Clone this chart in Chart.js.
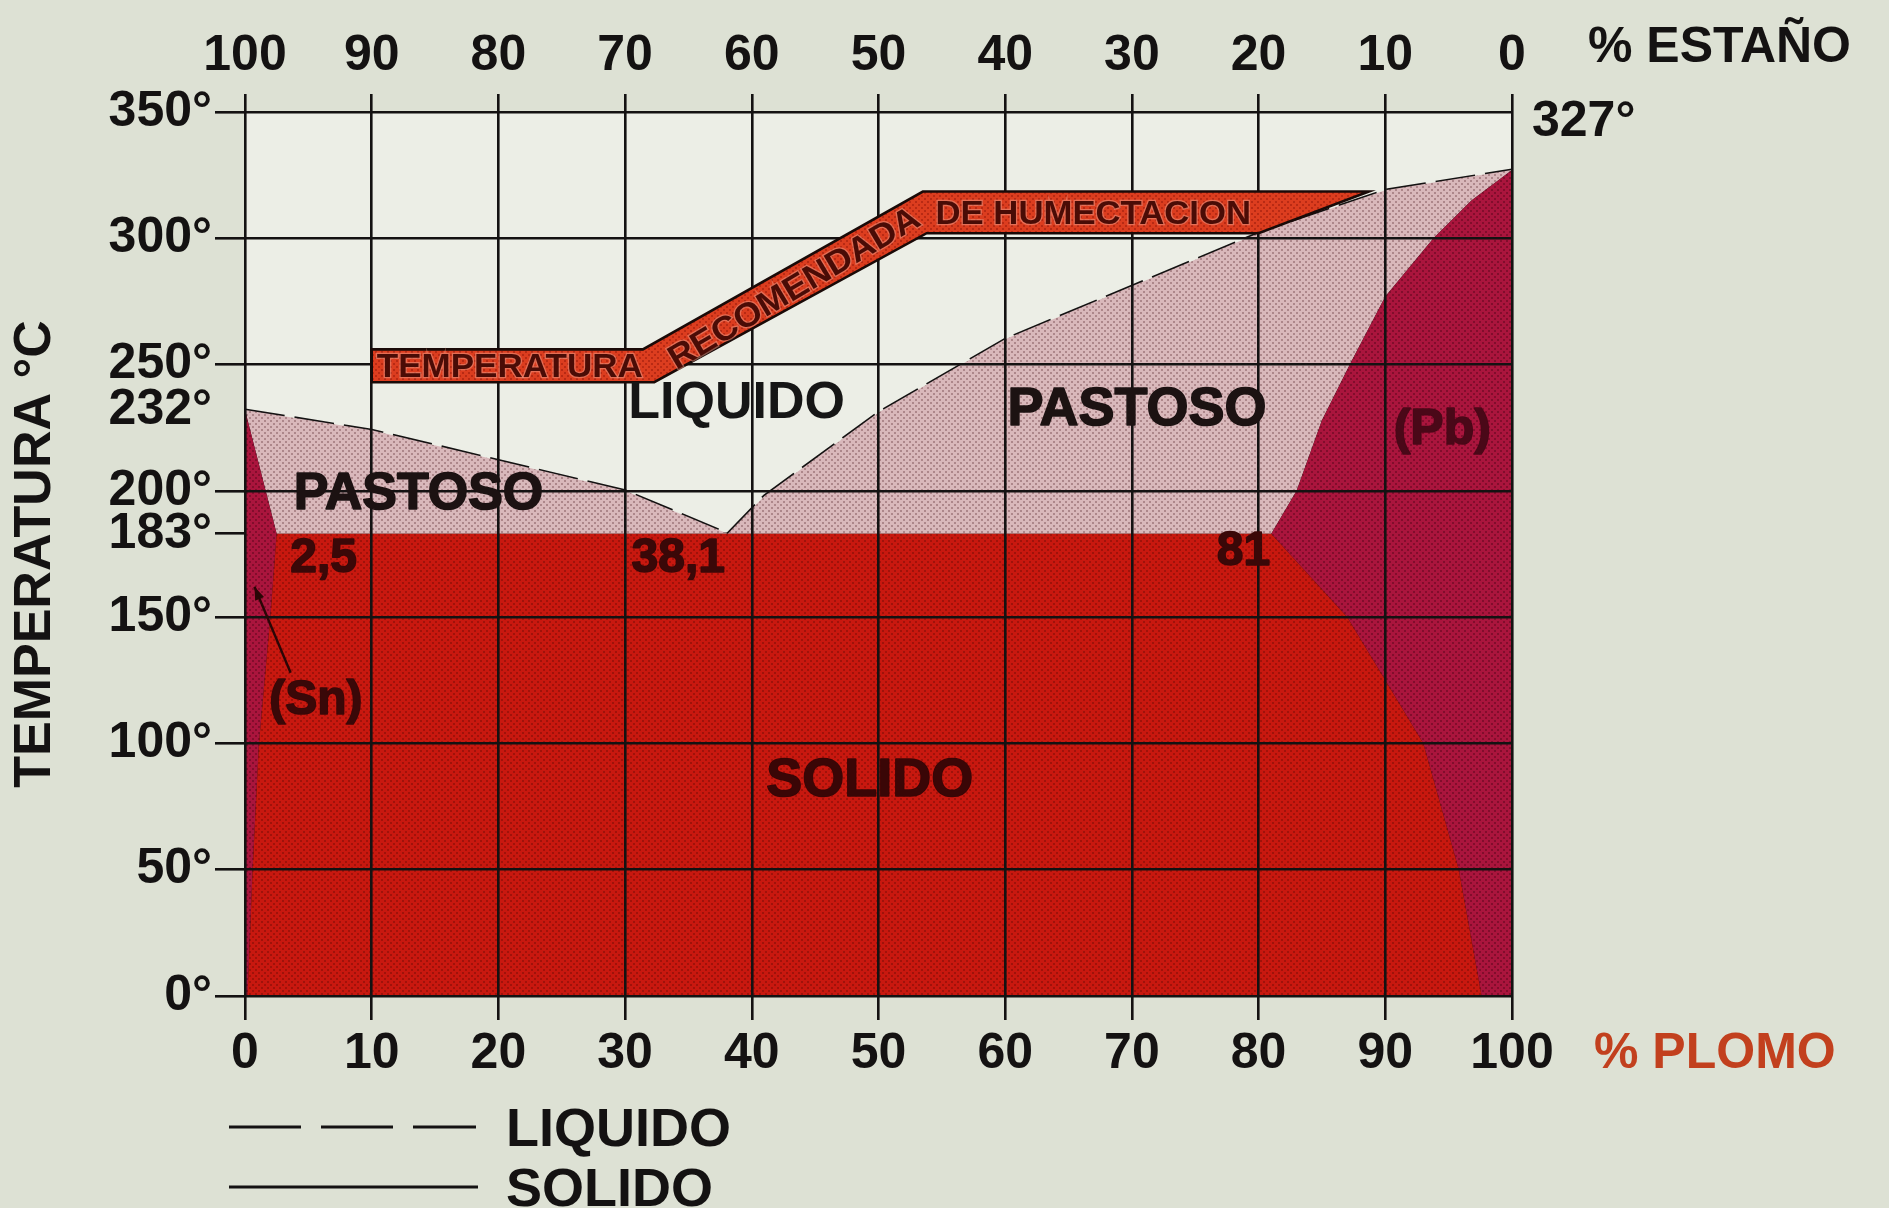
<!DOCTYPE html>
<html lang="es">
<head>
<meta charset="utf-8">
<title>Diagrama estaño-plomo</title>
<script src="https://cdn.jsdelivr.net/npm/chart.js@4/dist/chart.umd.min.js"></script>
<style>
  html, body { margin: 0; padding: 0; background: #dde1d4; }
</style>
</head>
<body>
<canvas id="phaseChart" width="1889" height="1208"></canvas>
<script>
// Diagrama de fases Sn-Pb: % de plomo en X, temperatura (°C) en Y

const pbTicks = [0, 10, 20, 30, 40, 50, 60, 70, 80, 90, 100];
const tempTicks = [0, 50, 100, 150, 183, 200, 232, 250, 300, 350];

// curvas del diagrama, pares [% Pb, °C]
const liquidusSn = [[0, 232], [10, 224], [20, 212], [30, 200], [38.1, 183]];
const liquidusPb = [[38.1, 183], [41, 198], [50, 231], [60, 260], [70, 281], [80, 302], [90, 319], [100, 327]];
const solidusSn = [[0, 232], [2.5, 183]];
const eutectic = [[2.5, 183], [81, 183]];
const solidusPb = [[81, 183], [83, 200], [85, 228], [87.2, 250], [90, 277], [93.8, 300], [96.8, 315], [100, 327]];
const solvusSn = [[2.5, 183], [2, 150], [1.1, 100], [0.6, 50], [0.2, 0]];
const solvusPb = [[81, 183], [87, 150], [90, 125], [93, 100], [95.8, 50], [97.6, 0]];

// banda de temperatura recomendada de humectación
const bandTop = [[10, 256], [31.4, 256], [53.5, 318.5], [88.7, 318.5]];
const bandBottom = [[10, 243], [32.3, 243], [53.8, 302], [80, 302]];

const rev = a => a.slice().reverse();
const pts = a => a.map(([x, y]) => ({ x, y }));

// zonas cerradas
const snPhase = [[0, 0], ...solidusSn, ...solvusSn.slice(1)];
const pbPhase = [[100, 0], ...rev(solidusPb), ...solvusPb.slice(1)];
const solidPhase = [...rev(solvusSn), ...eutectic.slice(1), ...solvusPb.slice(1)];
const pastySn = [...liquidusSn, [2.5, 183]];
const pastyPb = [...liquidusPb, ...rev(solidusPb).slice(1)];
const fullSolidus = [...solidusSn, ...eutectic.slice(1), ...solidusPb.slice(1)];
const fullLiquidus = [...liquidusSn, ...liquidusPb.slice(1)];

// trama de puntos (semitono)
function halftone(base, dot) {
    const c = document.createElement("canvas");
    c.width = c.height = 6;
    const g = c.getContext("2d");
    g.fillStyle = base;
    g.fillRect(0, 0, 6, 6);
    g.fillStyle = dot;
    g.fillRect(0, 0, 2, 2);
    g.fillRect(3, 3, 2, 2);
    return g.createPattern(c, "repeat");
}

const INK = "#141212";
const redFill = halftone("#c8180f", "#a0120a");
const crimsonFill = halftone("#aa153d", "#820d2c");
const pinkFill = halftone("#d9b8bb", "#ad878b");
const bandFill = halftone("#dc3d1f", "#b82a14");

function region(data, fill) {
    return {
        data: pts(data), showLine: true, fill: "shape",
        backgroundColor: fill, borderWidth: 0, pointRadius: 0, tension: 0
    };
}

function curve(data, dash, width) {
    return {
        data: pts(data), showLine: true, fill: false,
        borderColor: INK, borderWidth: width, borderDash: dash,
        pointRadius: 0, tension: 0
    };
}

// Etiquetas de zona (posición en unidades del gráfico)
const zoneLabels = [
    { text: "LIQUIDO", x: 38.8, y: 234.5, font: "bold 52px", color: "#161616", heavy: false },
    { text: "PASTOSO", x: 13.7, y: 198.5, font: "bold 52px", color: "#1c1212", heavy: true },
    { text: "PASTOSO", x: 70.4, y: 232, font: "bold 54px", color: "#1c1212", heavy: true },
    { text: "SOLIDO", x: 49.3, y: 85, font: "bold 54px", color: "#3a0606", heavy: true },
    { text: "(Pb)", x: 94.5, y: 224, font: "bold 50px", color: "#4a0818", heavy: true },
    { text: "2,5", x: 6.2, y: 173, font: "bold 48px", color: "#3a0808", heavy: true },
    { text: "38,1", x: 34.2, y: 173, font: "bold 48px", color: "#3a0808", heavy: true },
    { text: "81", x: 78.8, y: 176, font: "bold 48px", color: "#3a0808", heavy: true },
    { text: "(Sn)", x: 5.6, y: 117, font: "bold 48px", color: "#3a0808", heavy: true }
];

const FONT = "'Liberation Sans', Arial, sans-serif";

function fitText(ctx, text, cx, cy, width, angle, size) {
    ctx.save();
    ctx.translate(cx, cy);
    ctx.rotate(angle);
    ctx.font = "bold " + size + "px " + FONT;
    const w = ctx.measureText(text).width;
    ctx.scale(width / w, 1);
    ctx.textAlign = "center";
    ctx.textBaseline = "middle";
    ctx.lineWidth = 2.5;
    ctx.strokeStyle = "rgba(240,160,140,0.5)";
    ctx.strokeText(text, 0, 2);
    ctx.fillStyle = "#4a0c06";
    ctx.fillText(text, 0, 2);
    ctx.restore();
}

const decor = {
    id: "decor",
    beforeDraw(chart) {
        const { ctx, chartArea: a } = chart;
        ctx.save();
        ctx.fillStyle = "#dde1d4";
        ctx.fillRect(0, 0, chart.width, chart.height);
        ctx.fillStyle = "#eceee6";
        ctx.fillRect(a.left, a.top, a.right - a.left, a.bottom - a.top);
        ctx.restore();
    },
    afterDraw(chart) {
        const { ctx } = chart;
        const sx = chart.scales.x, sy = chart.scales.y;
        const px = v => sx.getPixelForValue(v);
        const py = v => sy.getPixelForValue(v);

        ctx.save();

        // banda de humectación
        const band = [...bandTop, ...rev(bandBottom)];
        ctx.beginPath();
        band.forEach(([x, y], i) => i ? ctx.lineTo(px(x), py(y)) : ctx.moveTo(px(x), py(y)));
        ctx.closePath();
        ctx.fillStyle = bandFill;
        ctx.fill();
        ctx.lineWidth = 2.6;
        ctx.lineJoin = "miter";
        ctx.strokeStyle = "#1a0a08";
        ctx.stroke();

        const midLow = (256 + 243) / 2, midHigh = (318.5 + 302) / 2;
        fitText(ctx, "TEMPERATURA", (px(10.4) + px(31.4)) / 2, py(midLow), px(31.4) - px(10.4), 0, 34);
        const x0 = px(33.4), y0 = py(251), x1 = px(53.2), y1 = py(310);
        fitText(ctx, "RECOMENDADA", (x0 + x1) / 2, (y0 + y1) / 2,
            Math.hypot(x1 - x0, y1 - y0) * 0.98, Math.atan2(y1 - y0, x1 - x0), 34);
        fitText(ctx, "DE HUMECTACION", (px(54.5) + px(79.4)) / 2, py(midHigh), px(79.4) - px(54.5), 0, 34);

        // rótulos de zona
        ctx.textAlign = "center";
        ctx.textBaseline = "middle";
        ctx.lineJoin = "round";
        zoneLabels.forEach(l => {
            ctx.font = l.font + " " + FONT;
            ctx.fillStyle = l.color;
            if (l.heavy) {
                ctx.lineWidth = 1.6;
                ctx.strokeStyle = l.color;
                ctx.strokeText(l.text, px(l.x), py(l.y));
            }
            ctx.fillText(l.text, px(l.x), py(l.y));
        });

        // flecha de (Sn)
        const ax = px(3.6), ay = py(128), bx = px(0.75), by = py(162);
        ctx.strokeStyle = "#2a0606";
        ctx.lineWidth = 2.4;
        ctx.beginPath();
        ctx.moveTo(ax, ay);
        ctx.lineTo(bx, by);
        ctx.stroke();
        const ang = Math.atan2(by - ay, bx - ax);
        ctx.fillStyle = "#2a0606";
        ctx.beginPath();
        ctx.moveTo(bx, by);
        ctx.lineTo(bx - 14 * Math.cos(ang - 0.35), by - 14 * Math.sin(ang - 0.35));
        ctx.lineTo(bx - 14 * Math.cos(ang + 0.35), by - 14 * Math.sin(ang + 0.35));
        ctx.closePath();
        ctx.fill();

        // títulos de los ejes y temperatura del plomo
        ctx.textAlign = "left";
        ctx.textBaseline = "middle";
        ctx.font = "bold 50px " + FONT;
        ctx.fillStyle = INK;
        ctx.fillText("% ESTAÑO", 1588, 48);
        ctx.fillStyle = "#c2401e";
        ctx.fillText("% PLOMO", 1594, 1054);
        ctx.fillStyle = INK;
        ctx.fillText("327°", px(100) + 20, 122);

        // leyenda
        ctx.strokeStyle = INK;
        ctx.lineWidth = 3;
        ctx.setLineDash([72, 20]);
        ctx.beginPath();
        ctx.moveTo(229, 1127);
        ctx.lineTo(476, 1127);
        ctx.stroke();
        ctx.setLineDash([]);
        ctx.beginPath();
        ctx.moveTo(229, 1187);
        ctx.lineTo(478, 1187);
        ctx.stroke();
        ctx.font = "bold 54px " + FONT;
        ctx.textBaseline = "alphabetic";
        ctx.fillText("LIQUIDO", 506, 1146);
        ctx.fillText("SOLIDO", 506, 1206);

        ctx.restore();
    }
};

Chart.defaults.font.family = FONT;
Chart.defaults.color = INK;

const tickFont = { size: 50, weight: "bold" };

new Chart(document.getElementById("phaseChart"), {
    type: "scatter",
    data: {
        datasets: [
            region(solidPhase, redFill),
            region(snPhase, crimsonFill),
            region(pbPhase, crimsonFill),
            region(pastySn, pinkFill),
            region(pastyPb, pinkFill),
            curve(solvusSn, [], 2.2),
            curve(solvusPb, [], 2.6),
            curve(fullSolidus, [], 2.6),
            curve(fullLiquidus, [40, 10], 3.2)
        ]
    },
    options: {
        responsive: false,
        animation: false,
        layout: { padding: { left: 0, right: 377, top: 0, bottom: 0 } },
        plugins: { legend: { display: false }, tooltip: { enabled: false } },
        scales: {
            x: {
                type: "linear", position: "bottom", min: 0, max: 100,
                afterBuildTicks: s => { s.ticks = pbTicks.map(v => ({ value: v })); },
                afterFit: s => { s.height = 212; },
                border: { display: false },
                grid: { z: 1, color: INK, lineWidth: 2.6, tickLength: 24, tickWidth: 2.6 },
                ticks: { font: tickFont, color: INK, padding: 4, maxRotation: 0, autoSkip: false }
            },
            xTop: {
                type: "linear", position: "top", min: 0, max: 100,
                afterBuildTicks: s => { s.ticks = pbTicks.map(v => ({ value: v })); },
                afterFit: s => { s.height = 112; },
                border: { display: false },
                grid: { z: 1, drawOnChartArea: false, color: INK, lineWidth: 2.6, tickLength: 18 },
                ticks: {
                    font: tickFont, color: INK, padding: 8, maxRotation: 0, autoSkip: false,
                    callback: v => String(100 - v)
                }
            },
            y: {
                type: "linear", min: 0, max: 350,
                afterBuildTicks: s => { s.ticks = tempTicks.map(v => ({ value: v })); },
                afterFit: s => { s.width = 245; },
                border: { display: false },
                grid: {
                    z: 1,
                    color: c => (c.tick && c.tick.value % 50 === 0) ? INK : "rgba(0,0,0,0)",
                    tickColor: c => (c.tick && c.tick.value === 232) ? "rgba(0,0,0,0)" : INK,
                    lineWidth: 2.6, tickLength: 30, tickWidth: 2.6
                },
                ticks: { font: tickFont, color: INK, padding: 3, callback: v => v + "°" },
                title: {
                    display: true, text: "TEMPERATURA °C", color: INK,
                    font: { size: 52, weight: "bold" }, padding: { top: 4, bottom: 0 }
                }
            }
        }
    },
    plugins: [decor]
});
</script>
</body>
</html>
